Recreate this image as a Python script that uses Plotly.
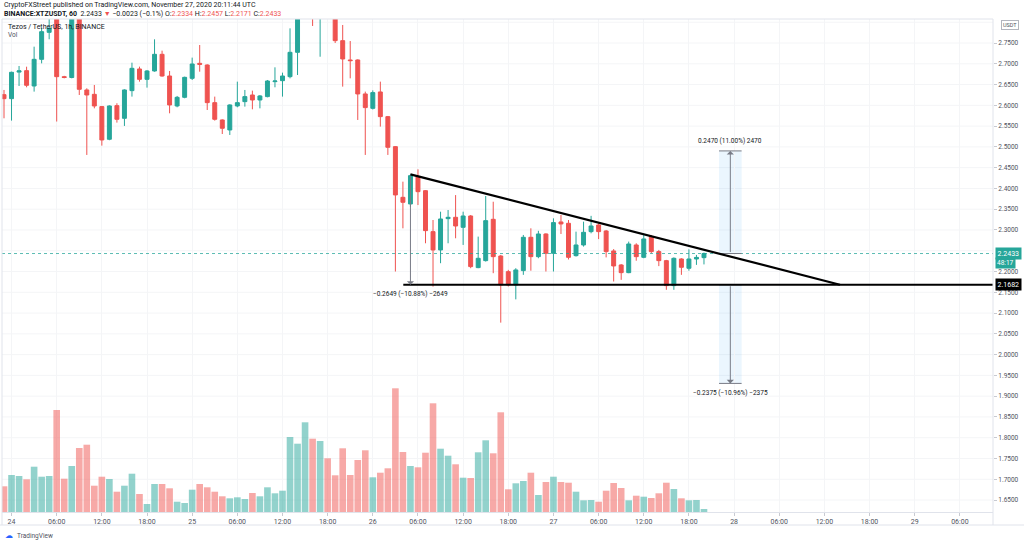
import plotly.graph_objects as go
import pandas as pd

# ---------------- data ----------------
start_time = "2020-11-23 23:00"
opens = [2.6257, 2.6161, 2.6800, 2.6835, 2.6466, 2.7107, 2.7757, 2.8300, 2.6690, 2.6670,
         2.8300, 2.6370, 2.6265, 2.5969, 2.5183, 2.5993, 2.5688, 2.6354, 2.6875, 2.6626,
         2.6827, 2.7228, 2.6706, 2.5985, 2.6193, 2.6650, 2.7011, 2.6971, 2.6065, 2.5648,
         2.5407, 2.5985, 2.6089, 2.6249, 2.6129, 2.6210, 2.6570, 2.6594, 2.6690, 2.7276,
         2.8400, 2.8700, 2.8300, 2.8600, 2.8400, 2.7557, 2.7092, 2.7092, 2.6274, 2.5928,
         2.6322, 2.5728, 2.5006, 2.3786, 2.3626, 2.4283, 2.3946, 2.2960, 2.2519, 2.3273,
         2.3305, 2.3064, 2.3337, 2.2094, 2.2262, 2.3257, 2.2374, 2.1997, 2.1677, 2.2022,
         2.2824, 2.2358, 2.2904, 2.2439, 2.3193, 2.3161, 2.2382, 2.2639, 2.2960, 2.3120,
         2.2976, 2.2495, 2.2158, 2.1973, 2.2639, 2.2342, 2.2840, 2.2479, 2.2262, 2.1661,
         2.2302, 2.2078, 2.2302, 2.2334]
highs = [2.6370, 2.6810, 2.6947, 2.6930, 2.7412, 2.7853, 2.8150, 2.8450, 2.6710, 2.8500,
         2.8400, 2.6410, 2.6490, 2.5985, 2.6000, 2.6050, 2.6386, 2.7027, 2.6931, 2.6850,
         2.7589, 2.7316, 2.6827, 2.6226, 2.6690, 2.7148, 2.7452, 2.6987, 2.6210, 2.5664,
         2.6025, 2.6570, 2.6370, 2.6354, 2.6249, 2.6610, 2.6915, 2.6787, 2.7853, 2.8600,
         2.8900, 2.8800, 2.8800, 2.8700, 2.8500, 2.7934, 2.7548, 2.7107, 2.6330, 2.6360,
         2.6570, 2.5744, 2.5020, 2.4163, 2.4339, 2.4460, 2.3960, 2.3240, 2.3440, 2.3480,
         2.3840, 2.3440, 2.3360, 2.2840, 2.3818, 2.3680, 2.2400, 2.2040, 2.2080, 2.2880,
         2.3040, 2.2980, 2.2920, 2.3280, 2.3360, 2.3240, 2.2960, 2.3200, 2.3340, 2.3160,
         2.3000, 2.2540, 2.2180, 2.2720, 2.2680, 2.2900, 2.2880, 2.2520, 2.2280, 2.2340,
         2.2320, 2.2535, 2.2400, 2.2457]
lows = [2.5688, 2.5632, 2.6466, 2.6434, 2.6330, 2.7010, 2.7590, 2.5610, 2.6650, 2.6650,
        2.6249, 2.4806, 2.5928, 2.5030, 2.5160, 2.5584, 2.5504, 2.6210, 2.6570, 2.6426,
        2.6810, 2.6690, 2.5808, 2.5953, 2.6170, 2.6610, 2.6810, 2.5888, 2.5632, 2.5310,
        2.5287, 2.5953, 2.5969, 2.5904, 2.5928, 2.6193, 2.6434, 2.6210, 2.6650, 2.6730,
        2.8300, 2.7910, 2.7170, 2.8200, 2.7500, 2.6450, 2.6650, 2.5648, 2.4806, 2.5900,
        2.5488, 2.4806, 2.2000, 2.3040, 2.3550, 2.3600, 2.2680, 2.1637, 2.2200, 2.2680,
        2.2800, 2.2640, 2.2080, 2.2080, 2.2240, 2.1960, 2.0770, 2.1640, 2.1330, 2.1920,
        2.2020, 2.2320, 2.2000, 2.2000, 2.2904, 2.2290, 2.2360, 2.2600, 2.2920, 2.2780,
        2.2340, 2.1760, 2.1800, 2.1960, 2.2260, 2.2320, 2.2440, 2.2130, 2.1560, 2.1560,
        2.1920, 2.2020, 2.2160, 2.2171]
closes = [2.6161, 2.6795, 2.6830, 2.6482, 2.7107, 2.7773, 2.7853, 2.6690, 2.6670, 2.8300,
          2.6386, 2.6249, 2.5985, 2.5167, 2.5985, 2.5664, 2.6370, 2.6891, 2.6626, 2.6827,
          2.7228, 2.6706, 2.6009, 2.6193, 2.6674, 2.6995, 2.6987, 2.6065, 2.5664, 2.5448,
          2.6009, 2.6065, 2.6210, 2.6129, 2.6226, 2.6586, 2.6586, 2.6706, 2.7276, 2.8400,
          2.8700, 2.8300, 2.8600, 2.8400, 2.7557, 2.7116, 2.7076, 2.6274, 2.5945, 2.6306,
          2.5728, 2.4990, 2.3843, 2.3666, 2.4307, 2.3922, 2.2984, 2.2519, 2.3265, 2.3305,
          2.3096, 2.3337, 2.2118, 2.2318, 2.3225, 2.2358, 2.1677, 2.1677, 2.2038, 2.2824,
          2.2358, 2.2904, 2.2439, 2.3177, 2.3145, 2.2342, 2.2639, 2.2944, 2.3096, 2.2960,
          2.2479, 2.2134, 2.1973, 2.2663, 2.2358, 2.2784, 2.2479, 2.2262, 2.1661, 2.2318,
          2.2102, 2.2302, 2.2340, 2.2433]
volumes_k = [257, 370, 360, 327, 453, 353, 360, 1020, 333, 460,
             640, 673, 263, 353, 330, 203, 263, 383, 180, 80,
             280, 280, 237, 103, 90, 223, 280, 247, 203, 157,
             137, 147, 130, 190, 157, 247, 187, 213, 750, 683,
             897, 733, 710, 537, 367, 637, 370, 520, 617, 347,
             393, 437, 1237, 600, 460, 447, 593, 1087, 633, 563,
             477, 343, 340, 597, 717, 587, 997, 227, 287, 310,
             393, 170, 300, 353, 300, 293, 203, 117, 120, 103,
             213, 290, 240, 117, 163, 153, 140, 187, 293, 230,
             137, 117, 120, 30]

tick_times = pd.date_range("2020-11-24 00:00", "2020-11-29 06:00", freq="6h")
tick_labels = ["24", "06:00", "12:00", "18:00", "25", "06:00", "12:00", "18:00",
               "26", "06:00", "12:00", "18:00", "27", "06:00", "12:00", "18:00",
               "28", "06:00", "12:00", "18:00", "29", "06:00"]
price_ticks = [1.65, 1.70, 1.75, 1.80, 1.85, 1.90, 1.95, 2.00, 2.05, 2.10, 2.15, 2.20,
               2.30, 2.35, 2.40, 2.45, 2.50, 2.55, 2.60, 2.65, 2.70, 2.75]
grid_prices = [1.65, 1.70, 1.75, 1.80, 1.85, 1.90, 1.95, 2.00, 2.05, 2.10, 2.15, 2.20, 2.25,
               2.30, 2.35, 2.40, 2.45, 2.50, 2.55, 2.60, 2.65, 2.70, 2.75, 2.80]

last_price = 2.2433
countdown = "48:17"
support = 2.1682
resist_start_time, resist_start_price = "2020-11-26 05:00", 2.4339
apex_time = "2020-11-28 14:04"
support_start_time = "2020-11-26 04:03"

left_meas_time = "2020-11-26 05:00"
left_meas_top = 2.4331
left_meas_text = "−0.2649 (−10.88%) −2649"
right_meas_x0, right_meas_x1, right_meas_mid = "2020-11-27 22:00", "2020-11-28 01:00", "2020-11-27 23:30"
up_target = 2.4903
up_text = "0.2470 (11.00%) 2470"
down_target = 1.9307
down_text = "−0.2375 (−10.96%) −2375"

x_range = ["2020-11-23 22:44", "2020-11-29 10:24"]
y_range = [1.6212, 2.8078]
vol_range = [0, 4930]

# ---------------- styling ----------------
UP = "#26a69a"
DN = "#ef5350"
TXT = "#131722"
GREY = "#787b86"
FONT = "Roboto"

times = pd.date_range(start_time, periods=len(opens), freq="h")
vol_colors = ["rgba(38,166,154,0.5)" if c >= o else "rgba(239,83,80,0.5)"
              for o, c in zip(opens, closes)]

fig = go.Figure()
fig.add_trace(go.Bar(x=times, y=volumes_k, yaxis="y2",
                     marker=dict(color=vol_colors, line=dict(width=0)),
                     width=3600000 * 0.88, hoverinfo="skip"))
fig.add_trace(go.Candlestick(x=times, open=opens, high=highs, low=lows, close=closes,
                             increasing=dict(line=dict(color=UP, width=1), fillcolor=UP),
                             decreasing=dict(line=dict(color=DN, width=1), fillcolor=DN),
                             whiskerwidth=0, yaxis="y"))

W, H = 1024, 542
ML, MR, MT, MB = 2, 31, 19, 30
PW, PH = W - ML - MR, H - MT - MB


def px_x(X):
    return (X - ML) / PW


def px_y(Y):
    return (H - MB - Y) / PH


shapes = []
# faint horizontal grid at each price step
for gp in grid_prices:
    shapes.append(dict(type="line", xref="paper", yref="y", x0=0, x1=1, y0=gp, y1=gp,
                       line=dict(color="#f4f5f7", width=1), layer="below"))
# current price dotted line
shapes.append(dict(type="line", xref="paper", yref="y", x0=0, x1=1, y0=last_price, y1=last_price,
                   line=dict(color="rgba(38,166,154,0.75)", width=1, dash="dot")))
# measurement boxes (right)
shapes.append(dict(type="rect", xref="x", yref="y", x0=right_meas_x0, x1=right_meas_x1,
                   y0=last_price, y1=up_target, fillcolor="rgba(33,150,243,0.09)", line=dict(width=0), layer="below"))
shapes.append(dict(type="rect", xref="x", yref="y", x0=right_meas_x0, x1=right_meas_x1,
                   y0=down_target, y1=support, fillcolor="rgba(33,150,243,0.09)", line=dict(width=0), layer="below"))
for yv in (last_price, up_target, support, down_target):
    shapes.append(dict(type="line", xref="x", yref="y", x0=right_meas_x0, x1=right_meas_x1,
                       y0=yv, y1=yv, line=dict(color=GREY, width=1)))
# triangle lines
shapes.append(dict(type="line", xref="x", yref="y", x0=resist_start_time, y0=resist_start_price,
                   x1=apex_time, y1=support, line=dict(color="black", width=2.2)))
shapes.append(dict(type="line", xref="x", yref="y", x0=support_start_time, y0=support,
                   x1=x_range[1], y1=support, line=dict(color="black", width=2.2)))
# frame lines
shapes.append(dict(type="line", xref="paper", yref="paper", x0=px_x(0), x1=px_x(W),
                   y0=px_y(525), y1=px_y(525), line=dict(color="#e0e3eb", width=1)))
shapes.append(dict(type="line", xref="paper", yref="paper", x0=1, x1=1,
                   y0=px_y(525), y1=1, line=dict(color="#e0e3eb", width=1)))
shapes.append(dict(type="line", xref="paper", yref="paper", x0=0, x1=1,
                   y0=1, y1=1, line=dict(color="#e0e3eb", width=1)))
shapes.append(dict(type="line", xref="paper", yref="paper", x0=0, x1=0,
                   y0=px_y(525), y1=1, line=dict(color="#e0e3eb", width=1)))

ann = []
def text(X, Y, s, size=7, color=TXT, xanchor="left", yanchor="middle", **kw):
    ann.append(dict(xref="paper", yref="paper", x=px_x(X), y=px_y(Y), text=s, showarrow=False,
                    xanchor=xanchor, yanchor=yanchor, font=dict(family=FONT, size=size, color=color), **kw))

red = lambda s: f"<span style='color:{DN}'>{s}</span>"
text(2, 5, "CryptoFXStreet published on TradingView.com, November 27, 2020 20:11:44 UTC", size=7)
text(2, 13.5, "<b>BINANCE:XTZUSDT, 60</b>  2.2433 " + red("▼") + " −0.0023 (−0.1%) O:" + red("2.2334")
     + " H:" + red("2.2457") + " L:" + red("2.2171") + " C:" + red("2.2433"), size=7)
text(6, 27, "Tezos / TetherUS, 1h, BINANCE", size=7)
text(6, 35, "Vol", size=6.5, color="#50535e")
text(1010, 25, "USDT", size=5.5, color="#50535e", xanchor="center",
     bordercolor="#b2b5be", borderwidth=1, borderpad=1, bgcolor="white")
text(3, 535, "☁", size=8, color="#2962ff")
text(15, 535.5, "TradingView", size=6.5, color="#50535e")

# right axis price tags
ann.append(dict(xref="paper", yref="y", x=px_x(995), y=last_price, text="2.2433", showarrow=False,
                xanchor="left", yanchor="middle", bgcolor=UP, borderpad=1.5,
                font=dict(family=FONT, size=7, color="white")))
ann.append(dict(xref="paper", yref="y", x=px_x(995), y=last_price, yshift=-9.5, text=countdown, showarrow=False,
                xanchor="left", yanchor="middle", bgcolor=UP, borderpad=1,
                font=dict(family=FONT, size=6.5, color="white")))
ann.append(dict(xref="paper", yref="y", x=px_x(995), y=support, text="2.1682", showarrow=False,
                xanchor="left", yanchor="middle", bgcolor="black", borderpad=1.5,
                font=dict(family=FONT, size=7, color="white")))

# measurement arrows
for (xt, y0, y1) in [(left_meas_time, left_meas_top, support),
                     (right_meas_mid, last_price, up_target),
                     (right_meas_mid, support, down_target)]:
    ann.append(dict(xref="x", yref="y", axref="x", ayref="y", x=xt, y=y1, ax=xt, ay=y0,
                    text="", showarrow=True, arrowhead=1, arrowsize=1.2, arrowwidth=1, arrowcolor=GREY))
ann.append(dict(xref="x", yref="y", x=left_meas_time, y=support, yshift=-9, text=left_meas_text,
                showarrow=False, xanchor="center", yanchor="middle", font=dict(family=FONT, size=6.5, color=TXT)))
ann.append(dict(xref="x", yref="y", x=right_meas_mid, y=up_target, yshift=10, text=up_text,
                showarrow=False, xanchor="center", yanchor="middle", font=dict(family=FONT, size=6.5, color=TXT)))
ann.append(dict(xref="x", yref="y", x=right_meas_mid, y=down_target, yshift=-10, text=down_text,
                showarrow=False, xanchor="center", yanchor="middle", font=dict(family=FONT, size=6.5, color=TXT)))

fig.update_layout(
    width=W, height=H, autosize=False,
    margin=dict(l=ML, r=MR, t=MT, b=MB),
    paper_bgcolor="white", plot_bgcolor="white",
    showlegend=False, bargap=0.1, boxgap=0.25,
    font=dict(family=FONT, size=7, color=TXT),
    xaxis=dict(type="date", range=x_range, rangeslider=dict(visible=False),
               tickmode="array", tickvals=tick_times, ticktext=tick_labels,
               showgrid=True, gridcolor="#f4f5f7", gridwidth=1, zeroline=False,
               ticks="outside", ticklen=3, tickcolor="#c8cad1",
               tickfont=dict(family=FONT, size=7, color="#50535e"),
               showline=True, linecolor="#e0e3eb"),
    yaxis=dict(side="right", range=y_range, tickmode="array", tickvals=price_ticks,
               tickformat=".4f", showgrid=False, zeroline=False,
               ticks="outside", ticklen=3, tickcolor="#c8cad1",
               tickfont=dict(family=FONT, size=6.5, color="#50535e"),
               showline=False),
    yaxis2=dict(overlaying="y", range=vol_range, visible=False, showgrid=False),
    shapes=shapes, annotations=ann,
)

fig.write_html("out.html")
